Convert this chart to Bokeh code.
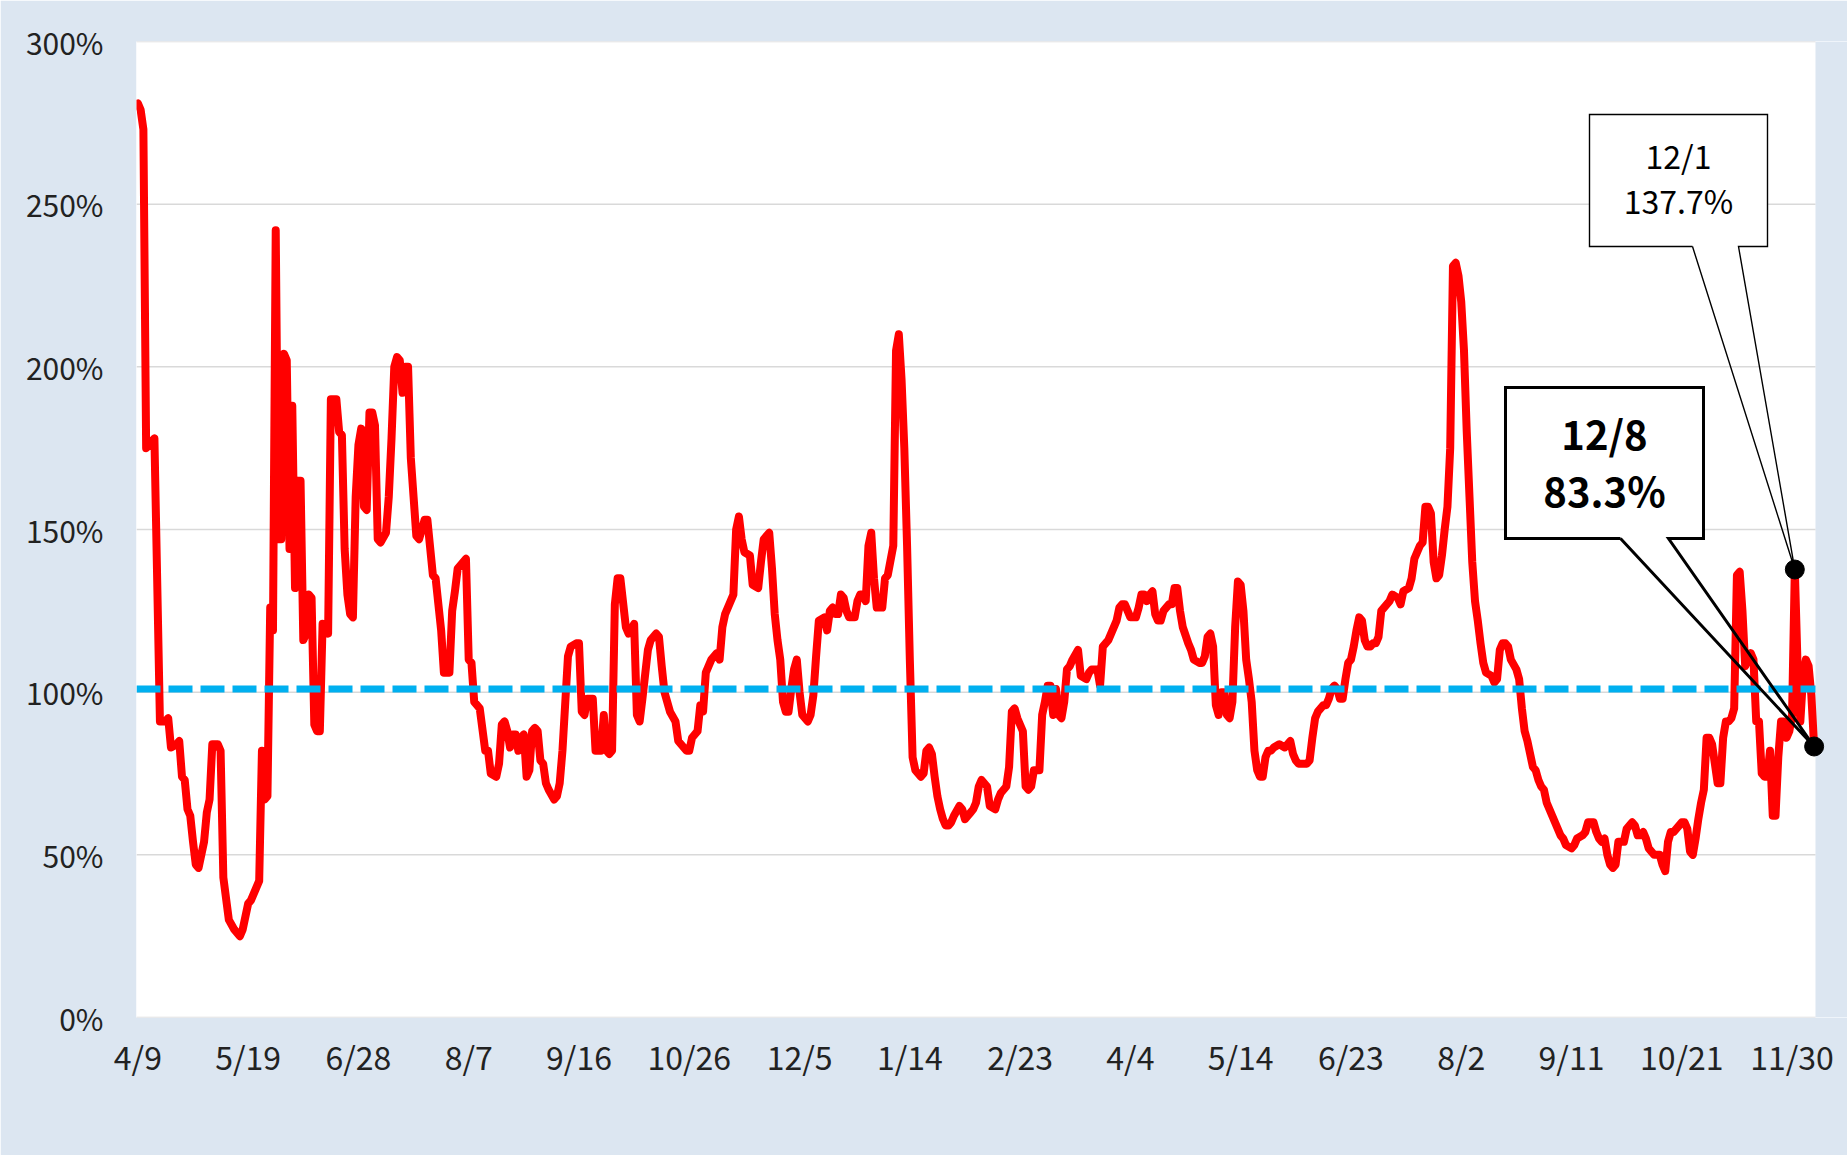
from bokeh.plotting import figure
from bokeh.models import Range1d, FixedTicker, BoxAnnotation, Label
from bokeh.embed import file_html
from bokeh.resources import INLINE

# ---- data: day offset from 2020-04-09, ratio in % ----
p1 = [(0,281),(1,279),(2,273),(3,175),(6,178),(8,91),(10,91),(11,92),(12,83),(14,84),(15,85),(16,74),(17,73),(18,64),(19,62),(20,54),(21,47),(22,46),(24,54),(25,63),(26,67),(27,84),(29,84),(30,82),(31,43),(33,30),(35,27),(37,25),(38,27),(40,35),(41,36),(43,40),(44,42),(45,82),(46,67),(47,68),(48,126),(49,119),(50,242),(51,147),(52,147),(53,204),(54,202),(55,144),(56,188),(57,132),(58,165),(59,165),(60,116),(61,118),(62,130),(63,129),(64,90),(65,88),(66,88),(67,121),(69,118),(70,190),(72,190),(73,180),(74,179),(75,144),(76,130),(77,124),(78,123),(79,160)]
p2 = [(80,176),(81,181),(82,157),(83,156),(84,186),(85,186),(86,182),(87,147),(88,146),(90,149),(91,160),(92,178),(93,200),(94,203),(95,202),(96,192),(97,200),(98,200),(99,172),(100,160),(101,148),(102,147),(104,153),(105,153),(107,136),(108,135),(109,127),(110,119),(111,106),(113,106),(114,125),(115,131),(116,138),(117,139),(119,141),(120,110),(121,109),(122,97),(124,95),(126,82),(127,82),(128,75),(130,74),(131,78),(132,90),(133,91),(134,88),(135,83),(136,87),(137,87),(138,82),(139,86),(140,87),(141,74),(142,76),(143,88),(144,89),(145,88),(146,79),(147,78),(148,72),(149,70),(151,67),(152,68),(153,72),(154,82),(156,111),(157,114),(159,115),(160,115),(161,94),(162,93),(163,98),(165,98),(166,82),(168,82),(169,93),(170,82),(171,81),(172,82),(173,127),(174,135),(175,135),(177,120),(178,118),(180,121),(181,93),(182,91),(183,98),(185,113),(186,116),(188,118),(189,117),(190,108),(191,100),(193,94),(195,91),(196,85),(197,84),(199,82)]
p3 = [(200,82),(201,86),(203,88),(204,96),(205,94),(206,106),(207,108),(208,110),(210,112),(211,110),(212,120),(213,124),(215,128),(216,130),(217,150),(218,154),(219,147),(220,143),(222,142),(223,133),(225,132),(226,140),(227,147),(229,149),(230,138),(231,124),(232,116),(233,110),(234,97),(235,94),(236,94),(237,101),(238,107),(239,110),(240,100),(241,93),(242,92),(243,91),(244,93),(245,99),(246,111),(247,122),(249,123),(250,119),(251,125),(252,126),(253,124),(254,124),(255,130),(256,129),(257,125),(258,123),(260,123),(261,128),(262,130),(263,130),(264,128),(265,145),(266,149),(267,135),(268,126),(270,126),(271,135),(272,136),(274,145),(275,205),(276,210),(277,196),(278,175),(279,145),(280,110),(281,80),(282,76),(284,74),(285,75),(286,82),(287,83),(288,81),(289,74),(290,68),(291,64),(292,61),(293,59),(294,59),(295,60),(296,62),(298,65),(299,64),(300,61),(302,63),(303,64),(304,66),(305,71),(306,73),(307,72),(308,71),(309,65),(311,64),(312,67),(313,69),(315,71),(316,77),(317,94),(318,95),(319,92)]
p4 = [(320,90),(321,88),(322,71),(323,70),(324,71),(325,76),(326,76),(327,76),(328,93),(329,97),(330,102),(331,102),(332,93),(333,101),(334,93),(335,92),(336,97),(337,107),(338,108),(339,110),(341,113),(342,105),(344,104),(345,106),(346,107),(348,107),(349,102),(350,114),(351,115),(352,116),(353,118),(355,122),(356,126),(357,127),(358,127),(359,125),(360,123),(362,123),(363,126),(364,130),(365,130),(366,128),(367,130),(368,131),(369,124),(370,122),(371,122),(372,125),(374,127),(375,127),(376,132),(377,132),(378,125),(379,120),(381,115),(382,113),(383,110),(385,109),(386,109),(387,111),(388,117),(389,118),(390,114),(391,96),(392,93),(393,100),(394,100),(395,93),(396,92),(397,97),(398,120),(399,134),(400,133),(401,125),(402,110),(403,104),(404,97),(405,82),(406,76),(407,74),(408,74),(409,80),(410,82),(411,82),(412,83),(414,84),(416,83),(417,84),(418,85),(419,81),(420,79),(421,78),(423,78),(424,78),(425,79),(426,86),(427,92),(428,94),(429,95),(430,96),(431,96),(432,98),(433,101),(434,102),(435,101),(436,98),(437,98),(438,104),(439,109)]
p5 = [(440,110),(441,114),(442,119),(443,123),(444,122),(445,116),(446,114),(447,114),(448,115),(449,115),(450,117),(451,125),(452,126),(453,127),(454,128),(455,130),(457,129),(458,127),(459,131),(461,132),(462,135),(463,141),(464,143),(465,145),(466,146),(467,157),(468,157),(469,155),(470,140),(471,135),(472,136),(473,142),(474,150),(475,157),(476,175),(477,231),(478,232),(479,228),(480,220),(481,205),(482,180),(483,160),(484,140),(485,128),(486,122),(487,115),(488,109),(489,106),(491,105),(492,103),(493,104),(494,113),(495,115),(496,115),(497,114),(498,110),(500,107),(501,104),(502,95),(503,88),(504,85),(505,81),(506,77),(507,76),(508,73),(509,71),(510,70),(511,66),(512,64),(513,62),(514,60),(515,58),(516,56),(517,55),(518,53),(520,52),(521,53),(522,55),(524,56),(525,57),(526,60),(528,60),(529,57),(530,55),(531,54),(532,55),(533,50),(534,47),(535,46),(536,47),(537,54),(538,54),(539,54),(540,58),(542,60),(543,59),(544,56),(545,56),(546,57),(547,55),(548,52),(549,51),(550,50),(551,50),(552,50),(553,47),(554,45),(555,54),(556,57),(557,57),(558,58),(559,59)]
p6 = [(560,60),(561,60),(562,58),(563,51),(564,50),(565,55),(566,61),(567,66),(568,70),(569,86),(570,86),(571,84),(572,78),(573,72),(574,72),(575,86),(576,91),(577,91),(578,92),(579,95),(580,136),(581,137),(582,125),(583,108),(584,110),(585,112),(586,110),(587,91),(588,91),(589,75),(590,74),(591,74),(592,82),(593,62),(594,62),(595,80),(596,91),(597,91),(598,86),(599,88),(600,93),(601,137.7),(602,108),(603,91),(604,105),(605,110),(606,108),(607,99),(608,83.3)]

tick_days = [0, 40, 80, 120, 160, 200, 240, 280, 320, 360, 400, 440, 480, 520, 560, 600]
tick_labels = ["4/9", "5/19", "6/28", "8/7", "9/16", "10/26", "12/5", "1/14", "2/23",
               "4/4", "5/14", "6/23", "8/2", "9/11", "10/21", "11/30"]
y_ticks = [0, 50, 100, 150, 200, 250, 300]
y_labels = ["0%", "50%", "100%", "150%", "200%", "250%", "300%"]
threshold = 101
note_days = [601, 608]
note_values = [137.7, 83.3]
note_dates = ["12/1", "12/8"]
note_texts = ["137.7%", "83.3%"]

series = p1 + p2 + p3 + p4 + p5 + p6
day = [d for d, _ in series]
ratio = [v for _, v in series]

# ---- layout (page pixels; the figure sits at the page origin) ----
BG = "#DCE6F1"
FONT = "Noto Sans CJK JP"
W, H = 1847, 1155
LEFT, TOP = 136, 41
FRAME_H = 976
BOTTOM = H - TOP - FRAME_H
FRAME_L, FRAME_T = LEFT, TOP
N_CAT = 609
PX_DAY = 1679 / N_CAT
PX_PCT = FRAME_H / 300
x_end = -0.5 + (W - LEFT) / PX_DAY


def to_x(X):
    return (X - FRAME_L) / PX_DAY - 0.5


def to_y(Y):
    return (FRAME_T + FRAME_H - Y) / PX_PCT


p = figure(width=W, height=H, x_range=Range1d(-0.5, x_end), y_range=Range1d(0, 300),
           output_backend="svg", toolbar_location=None,
           min_border_left=LEFT, min_border_right=0, min_border_top=TOP, min_border_bottom=BOTTOM)
p.border_fill_color = BG
p.background_fill_color = "white"
p.outline_line_color = None
p.grid.visible = False

# plot area ends after the last category; the rest of the frame shows the chart background
p.add_layout(BoxAnnotation(left=N_CAT - 0.5, fill_color=BG, fill_alpha=1.0,
                           line_color=None, level="underlay"))

# gridlines
p.segment(x0=-0.5, x1=N_CAT - 0.5, y0=y_ticks, y1=y_ticks, line_color="#D9D9D9", line_width=1.5)

# axes
p.xaxis.ticker = FixedTicker(ticks=tick_days)
p.xaxis.major_label_overrides = {d: s for d, s in zip(tick_days, tick_labels)}
p.yaxis.ticker = FixedTicker(ticks=y_ticks)
p.yaxis.major_label_overrides = {v: s for v, s in zip(y_ticks, y_labels)}
for ax in (p.xaxis[0], p.yaxis[0]):
    ax.axis_line_color = None
    ax.major_tick_line_color = None
    ax.minor_tick_line_color = None
    ax.major_tick_out = 0
    ax.major_tick_in = 0
    ax.minor_tick_out = 0
    ax.major_label_text_font = FONT
    ax.major_label_text_color = "#222222"
p.xaxis.major_label_text_font_size = "32px"
p.xaxis.major_label_standoff = 15
p.yaxis.major_label_text_font_size = "30px"
p.yaxis.major_label_standoff = 33

# data line and 100% line
p.line(day, ratio, line_color="#FF0000", line_width=8, line_join="round", line_cap="round")
p.segment(x0=-0.5, x1=N_CAT - 0.5, y0=threshold, y1=threshold,
          line_color="#00B0F0", line_width=7, line_dash="24 8")


def callout(box, bases, tip, lw):
    L, T, R, B = box
    x0, x1, yT, yB = to_x(L), to_x(R), to_y(T), to_y(B)
    p.quad(left=x0, right=x1, top=yT, bottom=yB, fill_color="white", line_color=None)
    b1, b2 = to_x(bases[0]), to_x(bases[1])
    xs = [b1, x0, x0, x1, x1, b2, tip[0], b1]
    ys = [yB, yB, yT, yT, yB, yB, tip[1], yB]
    p.line(xs, ys, line_color="black", line_width=lw, line_join="miter")


callout((1589, 114, 1767, 246), (1692, 1738), (note_days[0], note_values[0]), 1.4)
callout((1505, 387, 1703, 538), (1620, 1668), (note_days[1], note_values[1]), 3)

p.scatter(note_days, note_values, size=19, color="black")

p.add_layout(Label(x=to_x(1678), y=to_y(154), text=note_dates[0], text_align="center",
                   text_baseline="middle", text_font=FONT, text_font_size="32px", text_color="black"))
p.add_layout(Label(x=to_x(1678), y=to_y(199), text=note_texts[0], text_align="center",
                   text_baseline="middle", text_font=FONT, text_font_size="32px", text_color="black"))
p.add_layout(Label(x=to_x(1604), y=to_y(432), text=note_dates[1], text_align="center",
                   text_baseline="middle", text_font=FONT, text_font_size="40px",
                   text_font_style="bold", text_color="black"))
p.add_layout(Label(x=to_x(1604), y=to_y(489), text=note_texts[1], text_align="center",
                   text_baseline="middle", text_font=FONT, text_font_size="40px",
                   text_font_style="bold", text_color="black"))

open("out.html", "w").write(file_html(p, INLINE))
